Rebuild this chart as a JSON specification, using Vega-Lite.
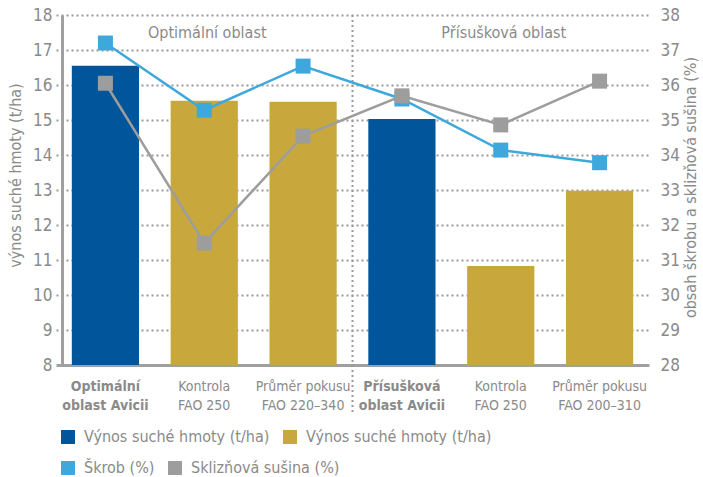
{
  "$schema": "https://vega.github.io/schema/vega-lite/v6.json",
  "width": 586,
  "height": 350,
  "autosize": {"type": "none"},
  "padding": {"left": 62, "top": 15, "right": 55, "bottom": 112},
  "background": "white",
  "config": {
    "font": "DejaVu Sans Condensed, sans-serif",
    "view": {"stroke": null},
    "axis": {
      "labelColor": "#8a8a8a",
      "titleColor": "#8a8a8a",
      "titleFontWeight": "normal",
      "ticks": false,
      "labelFont": "DejaVu Sans Condensed, sans-serif",
      "titleFont": "DejaVu Sans Condensed, sans-serif"
    },
    "axisLeft": {"tickCount": 11},
    "axisRight": {"tickCount": 11},
    "legend": {
      "labelFont": "DejaVu Sans Condensed, sans-serif",
      "labelColor": "#8a8a8a",
      "labelFontSize": 16,
      "labelLimit": 300
    }
  },
  "data": {
    "values": [
      {"poradi": 1, "kat": "opt~Optimální|oblast Avicii", "typ": "Avicii", "vynos": 16.55, "Škrob (%)": 37.2, "Sklizňová sušina (%)": 36.05, "nadpis": "", "predel": false},
      {"poradi": 2, "kat": "opt~Kontrola|FAO 250", "typ": "ostatní", "vynos": 15.55, "Škrob (%)": 35.28, "Sklizňová sušina (%)": 31.48, "nadpis": "Optimální oblast", "predel": false},
      {"poradi": 3, "kat": "opt~Průměr pokusu|FAO 220–340", "typ": "ostatní", "vynos": 15.52, "Škrob (%)": 36.54, "Sklizňová sušina (%)": 34.54, "nadpis": "", "predel": false},
      {"poradi": 4, "kat": "pri~Přísušková|oblast Avicii", "typ": "Avicii", "vynos": 15.03, "Škrob (%)": 35.6, "Sklizňová sušina (%)": 35.69, "nadpis": "", "predel": true},
      {"poradi": 5, "kat": "pri~Kontrola|FAO 250", "typ": "ostatní", "vynos": 10.83, "Škrob (%)": 34.14, "Sklizňová sušina (%)": 34.86, "nadpis": "Přísušková oblast", "predel": false},
      {"poradi": 6, "kat": "pri~Průměr pokusu|FAO 200–310", "typ": "ostatní", "vynos": 12.98, "Škrob (%)": 33.78, "Sklizňová sušina (%)": 36.11, "nadpis": "", "predel": false}
    ]
  },
  "layer": [
    {
      "encoding": {
        "x": {
          "field": "kat",
          "type": "nominal",
          "sort": {"field": "poradi", "op": "min"},
          "scale": {"paddingInner": 0, "paddingOuter": 0, "range": [-6, 587]},
          "axis": {
            "title": null,
            "domain": false,
            "labelAngle": 0,
            "labelFontSize": 14,
            "labelLineHeight": 19,
            "labelPadding": 14,
            "labelOverlap": false,
            "labelExpr": "split(split(datum.label, '~')[1], '|')",
            "labelFontWeight": {"condition": {"test": "indexof(datum.label, 'Avicii') >= 0", "value": "bold"}, "value": "normal"}
          }
        }
      },
      "layer": [
        {
          "mark": {"type": "bar", "width": {"band": 0.68}},
          "encoding": {
            "y": {
              "field": "vynos",
              "type": "quantitative",
              "scale": {"domain": [8, 18], "nice": false, "zero": false},
              "axis": {
                "title": "výnos suché hmoty (t/ha)",
                "titleFontSize": 16,
                "titlePadding": 9,
                "titleY": 160,
                "values": [8, 9, 10, 11, 12, 13, 14, 15, 16, 17, 18],
                "tickCount": 11,
                "labelFontSize": 17,
                "labelPadding": 10,
                "labelOverlap": false,
                "domain": true,
                "domainColor": "#a0a0a0",
                "domainWidth": 3,
                "grid": true,
                "gridColor": {"condition": {"test": "datum.value === 8", "value": "#a0a0a0"}, "value": "#9a9a9a"},
                "gridWidth": {"condition": {"test": "datum.value === 8", "value": 3}, "value": 2},
                "gridDash": {"condition": {"test": "datum.value === 8", "value": [1, 0]}, "value": [2, 3]}
              }
            },
            "y2": {"datum": 8},
            "color": {
              "field": "typ",
              "type": "nominal",
              "scale": {"domain": ["Avicii", "ostatní"], "range": ["#00559b", "#c8a83c"]},
              "legend": {
                "orient": "none",
                "legendX": -2,
                "legendY": 414,
                "direction": "horizontal",
                "title": null,
                "symbolType": "square",
                "symbolSize": 196,
                "symbolStrokeWidth": 0,
                "labelOffset": 8,
                "columnPadding": 12,
                "labelExpr": "'Výnos suché hmoty (t/ha)'"
              }
            }
          }
        },
        {
          "mark": {"type": "rule", "strokeDash": [2, 3], "strokeWidth": 2, "color": "#9a9a9a"},
          "encoding": {
            "x": {"field": "kat", "type": "nominal", "sort": {"field": "poradi", "op": "min"}, "bandPosition": 0},
            "y": {
              "datum": 18,
              "type": "quantitative",
              "axis": {
                "title": "výnos suché hmoty (t/ha)",
                "titleFontSize": 16,
                "titlePadding": 9,
                "titleY": 160,
                "values": [8, 9, 10, 11, 12, 13, 14, 15, 16, 17, 18],
                "tickCount": 11,
                "labelFontSize": 17,
                "labelPadding": 10,
                "labelOverlap": false,
                "domain": true,
                "domainColor": "#a0a0a0",
                "domainWidth": 3,
                "grid": true,
                "gridColor": {"condition": {"test": "datum.value === 8", "value": "#a0a0a0"}, "value": "#9a9a9a"},
                "gridWidth": {"condition": {"test": "datum.value === 8", "value": 3}, "value": 2},
                "gridDash": {"condition": {"test": "datum.value === 8", "value": [1, 0]}, "value": [2, 3]}
              }
            },
            "y2": {"datum": 6.6},
            "strokeOpacity": {"condition": {"test": "datum.predel", "value": 1}, "value": 0}
          }
        },
        {
          "mark": {"type": "text", "fontSize": 16, "color": "#8a8a8a", "baseline": "middle", "dx": 3},
          "encoding": {
            "y": {
              "datum": 17.5,
              "type": "quantitative",
              "axis": {
                "title": "výnos suché hmoty (t/ha)",
                "titleFontSize": 16,
                "titlePadding": 9,
                "titleY": 160,
                "values": [8, 9, 10, 11, 12, 13, 14, 15, 16, 17, 18],
                "tickCount": 11,
                "labelFontSize": 17,
                "labelPadding": 10,
                "labelOverlap": false,
                "domain": true,
                "domainColor": "#a0a0a0",
                "domainWidth": 3,
                "grid": true,
                "gridColor": {"condition": {"test": "datum.value === 8", "value": "#a0a0a0"}, "value": "#9a9a9a"},
                "gridWidth": {"condition": {"test": "datum.value === 8", "value": 3}, "value": 2},
                "gridDash": {"condition": {"test": "datum.value === 8", "value": [1, 0]}, "value": [2, 3]}
              }
            },
            "text": {"field": "nadpis"}
          }
        }
      ]
    },
    {
      "transform": [{"fold": ["Škrob (%)", "Sklizňová sušina (%)"], "as": ["serie", "hodnota"]}],
      "encoding": {
        "x": {"field": "kat", "type": "nominal", "sort": {"field": "poradi", "op": "min"}},
        "y": {
          "field": "hodnota",
          "type": "quantitative",
          "scale": {"domain": [28, 38], "nice": false, "zero": false},
          "axis": {
            "orient": "right",
            "title": "obsah škrobu a sklizňová sušina (%)",
            "titleFontSize": 16,
            "titleAngle": 270,
            "titleBaseline": "top",
            "titlePadding": 3,
            "titleY": 172,
            "values": [28, 29, 30, 31, 32, 33, 34, 35, 36, 37, 38],
            "tickCount": 11,
            "labelFontSize": 17,
            "labelPadding": 12,
            "labelOverlap": false,
            "domain": false,
            "grid": false
          }
        },
        "color": {
          "field": "serie",
          "type": "nominal",
          "sort": ["Škrob (%)", "Sklizňová sušina (%)"],
          "scale": {"range": ["#3ea8dc", "#9d9d9d"]},
          "legend": {
            "orient": "none",
            "legendX": -2,
            "legendY": 445,
            "direction": "horizontal",
            "title": null,
            "symbolType": "square",
            "symbolSize": 196,
            "symbolStrokeWidth": 0,
            "labelOffset": 8,
            "columnPadding": 12
          }
        }
      },
      "layer": [
        {"mark": {"type": "line", "strokeWidth": 2.5}},
        {"mark": {"type": "point", "shape": "square", "filled": true, "size": 225, "opacity": 1}}
      ]
    }
  ],
  "resolve": {"scale": {"y": "independent", "color": "independent"}}
}
